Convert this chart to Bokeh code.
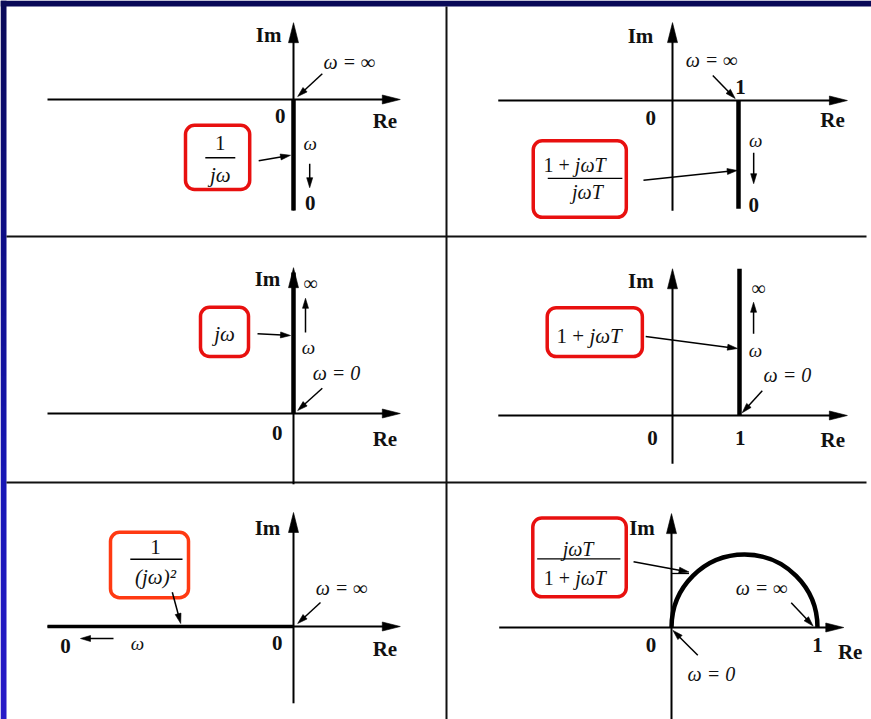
import math
import numpy as np
from bokeh.plotting import figure
from bokeh.models import Range1d
from bokeh.core.properties import value
from bokeh.embed import file_html
from bokeh.resources import INLINE

W, H = 871, 719
SERIF = value("Liberation Serif")

# ---------------------------------------------------------------
# Nyquist loci of the elementary factors (Re / Im units per panel)
# ---------------------------------------------------------------
# 1/(jw): negative imaginary axis, w from 0 (-j inf) to inf (origin)
INTEG_RE = [0.0, 0.0]
INTEG_IM = [0.0, -1.85]
# (1 + jwT)/(jwT): line Re = 1 below the real axis
PI_RE = [1.0, 1.0]
PI_IM = [0.0, -1.64]
# jw: positive imaginary axis
DIFF_RE = [0.0, 0.0]
DIFF_IM = [0.0, 2.35]
# 1 + jwT: line Re = 1 above the real axis
PD_RE = [1.0, 1.0]
PD_IM = [0.0, 2.19]
# 1/(jw)^2: negative real axis
DOUBLE_RE = [0.0, -4.1]
DOUBLE_IM = [0.0, 0.0]
# jwT/(1 + jwT): upper semicircle between 0 and 1
HP_CENTER_RE = [0.5]
HP_CENTER_IM = [0.0]
HP_RADIUS = [0.5]

# value marks written on the real axis
ORIGIN_LABEL = "0"
UNIT_LABEL = "1"
UNIT_RE = 1.0

# ---------------------------------------------------------------
# page layout: origin pixel (x from left, y from top) and px per unit
# ---------------------------------------------------------------
LAYOUT = {
    "tl": (293, 99, 60),
    "tr": (672, 100, 66),
    "ml": (293, 413, 60),
    "mr": (672, 415, 67),
    "bl": (293, 626, 60),
    "br": (671, 627, 146),
}
# drawn extent of each pair of axes (re_min, re_max, im_min, im_max)
AXES = {
    "tl": (-4.1, 1.78, -1.85, 1.28),
    "tr": (-2.64, 2.65, -1.67, 1.18),
    "ml": (-4.1, 1.78, -1.18, 2.43),
    "mr": (-2.6, 2.61, -0.72, 2.19),
    "bl": (-4.1, 1.78, -1.28, 1.9),
    "br": (-1.18, 1.18, -0.63, 0.78),
}

p = figure(width=W, height=H, x_range=Range1d(0, W), y_range=Range1d(0, H),
           min_border=0, toolbar_location=None, output_backend="svg",
           x_axis_location=None, y_axis_location=None)
p.outline_line_color = None
p.background_fill_color = "white"
p.border_fill_color = "white"
for g in p.grid:
    g.visible = False

xr, yr = {}, {}
for name, (ox, oy, k) in LAYOUT.items():
    xr[name] = Range1d(start=(0 - ox) / k, end=(W - ox) / k)
    yr[name] = Range1d(start=(oy - H) / k, end=oy / k)
p.extra_x_ranges = xr
p.extra_y_ranges = yr

# ---------------- page frame ----------------
# left edge: vertical blue gradient (navy at the top, violet-blue at the bottom)
stops_y = [0, 240, 480, H]
stops_rgb = np.array([(10, 10, 88), (14, 14, 135), (22, 22, 182), (40, 26, 200)], float)
rows = np.arange(H)[::-1] + 0.5          # image row 0 is drawn at the bottom
grad = np.empty((H, 1), dtype=np.uint32)
view = grad.view(dtype=np.uint8).reshape((H, 1, 4))
for c in range(3):
    view[:, 0, c] = np.interp(rows, stops_y, stops_rgb[:, c]).round().astype(np.uint8)
view[:, 0, 3] = 255
p.image_rgba(image=[grad], x=0, y=0, dw=6, dh=H)
p.quad(left=[0], right=[W], top=[H], bottom=[H - 6], fill_color="#0a0a58", line_color=None)

# cell dividers
p.segment(x0=[446, 6, 6], y0=[H - 6, H - 236, H - 482],
          x1=[446, 866, 866], y1=[0, H - 236, H - 482],
          line_color="#111111", line_width=2)

# ---------------- helpers ----------------
def kw(pn):
    return dict(x_range_name=pn, y_range_name=pn)

def arrow(pn, x0, y0, x1, y1, lw=1.5, hl=10, hw=6):
    k = LAYOUT[pn][2]
    dx, dy = x1 - x0, y1 - y0
    n = math.hypot(dx, dy)
    ux, uy = dx / n, dy / n
    bx, by = x1 - ux * hl / k, y1 - uy * hl / k
    p.line([x0, bx + ux * 1.5 / k], [y0, by + uy * 1.5 / k], line_color="black",
           line_width=lw, **kw(pn))
    px, py = -uy, ux
    xs = [x1, bx + px * hw / 2 / k, bx - px * hw / 2 / k]
    ys = [y1, by + py * hw / 2 / k, by - py * hw / 2 / k]
    p.patch(xs, ys, fill_color="black", line_color="black", line_width=0.6, **kw(pn))

def txt(pn, x, y, s, size=20, align="center", style="normal"):
    p.text(x=[x], y=[y], text=[s], text_font=SERIF, text_font_size=f"{size}px",
           text_font_style=style, text_align=align,
           text_baseline="middle", text_color="#111111", **kw(pn))

def axis_txt(pn, x, y, s, align="center"):
    txt(pn, x, y, s, 21, align, "bold")

def math_txt(pn, x, y, s, size=20, align="center"):
    txt(pn, x, y, s, size, align, "italic")

def mixed(pn, xsplit, y, roman, ital, size=19):
    txt(pn, xsplit, y, roman, size, "right")
    math_txt(pn, xsplit, y, ital, size, "left")

def box(pn, l, r, b, t, color="#e8100f"):
    p.quad(left=[l], right=[r], bottom=[b], top=[t], fill_color=None,
           line_color=color, line_width=3.5, border_radius=9, **kw(pn))

def frac_bar(pn, x0, x1, y):
    p.line([x0, x1], [y, y], line_color="black", line_width=1.4, **kw(pn))

def axes(pn):
    r0, r1, i0, i1 = AXES[pn]
    arrow(pn, r0, 0, r1, 0, lw=2, hl=18, hw=9)
    arrow(pn, 0, i0, 0, i1, lw=2, hl=20, hw=10)

def locus(pn, xs, ys, lw=4.5):
    p.line(xs, ys, line_color="black", line_width=lw, line_cap="butt", **kw(pn))

for pn in LAYOUT:
    axes(pn)

# ---------------- 1/(jw) ----------------
pn = "tl"
locus(pn, INTEG_RE, INTEG_IM)
axis_txt(pn, -0.2, 1.07, "Im", "right")
axis_txt(pn, 1.32, -0.35, "Re", "left")
axis_txt(pn, -0.22, -0.27, ORIGIN_LABEL)
math_txt(pn, 0.5, 0.62, "ω = ∞", 20, "left")
arrow(pn, 0.48, 0.43, 0.07, 0.05)
box(pn, -1.8, -0.73, -1.5, -0.43)
txt(pn, -1.22, -0.73, "1", 21)
frac_bar(pn, -1.47, -0.97, -0.97)
math_txt(pn, -1.22, -1.25, "jω", 21)
arrow(pn, -0.58, -1.02, -0.05, -0.93)
math_txt(pn, 0.28, -0.73, "ω", 19)
arrow(pn, 0.27, -1.07, 0.27, -1.47)
axis_txt(pn, 0.28, -1.73, "0")

# ---------------- (1 + jwT)/(jwT) ----------------
pn = "tr"
locus(pn, PI_RE, PI_IM)
axis_txt(pn, -0.29, 0.97, "Im", "right")
axis_txt(pn, 2.24, -0.3, "Re", "left")
axis_txt(pn, -0.33, -0.27, ORIGIN_LABEL)
axis_txt(pn, UNIT_RE + 0.03, 0.21, UNIT_LABEL)
math_txt(pn, 0.2, 0.61, "ω = ∞", 20, "left")
arrow(pn, 0.61, 0.38, 0.95, 0.03)
box(pn, -2.11, -0.70, -1.77, -0.61)
mixed(pn, -1.48, -0.98, "1 + ", "jωT", 20)
frac_bar(pn, -1.89, -0.76, -1.18)
math_txt(pn, -1.29, -1.39, "jωT", 20)
arrow(pn, -0.44, -1.21, 0.98, -1.06)
math_txt(pn, 1.26, -0.61, "ω", 19)
arrow(pn, 1.23, -0.79, 1.23, -1.26)
axis_txt(pn, 1.23, -1.58, "0")

# ---------------- jw ----------------
pn = "ml"
locus(pn, DIFF_RE, DIFF_IM)
axis_txt(pn, -0.22, 2.25, "Im", "right")
axis_txt(pn, 1.32, -0.42, "Re", "left")
axis_txt(pn, -0.27, -0.33, ORIGIN_LABEL)
txt(pn, 0.28, 2.17, "∞", 20)
arrow(pn, 0.2, 1.35, 0.2, 1.92)
math_txt(pn, 0.25, 1.1, "ω", 19)
math_txt(pn, 0.32, 0.68, "ω = 0", 20, "left")
arrow(pn, 0.48, 0.42, 0.07, 0.05)
box(pn, -1.55, -0.75, 0.95, 1.77)
math_txt(pn, -1.15, 1.33, "jω", 21)
arrow(pn, -0.6, 1.33, -0.05, 1.3)

# ---------------- 1 + jwT ----------------
pn = "mr"
locus(pn, PD_RE, PD_IM)
axis_txt(pn, -0.28, 2.01, "Im", "right")
axis_txt(pn, 2.21, -0.37, "Re", "left")
axis_txt(pn, -0.3, -0.33, ORIGIN_LABEL)
axis_txt(pn, UNIT_RE + 0.01, -0.33, UNIT_LABEL)
txt(pn, 1.28, 1.91, "∞", 20)
arrow(pn, 1.21, 1.22, 1.21, 1.69)
math_txt(pn, 1.24, 0.97, "ω", 19)
math_txt(pn, 1.36, 0.6, "ω = 0", 20, "left")
arrow(pn, 1.34, 0.37, 1.04, 0.04)
box(pn, -1.87, -0.45, 0.88, 1.61)
mixed(pn, -1.24, 1.19, "1 + ", "jωT", 21)
arrow(pn, -0.4, 1.18, 0.97, 1.0)

# ---------------- 1/(jw)^2 ----------------
pn = "bl"
locus(pn, DOUBLE_RE, DOUBLE_IM, 3.5)
axis_txt(pn, -0.22, 1.65, "Im", "right")
axis_txt(pn, 1.32, -0.37, "Re", "left")
axis_txt(pn, -0.27, -0.28, ORIGIN_LABEL)
math_txt(pn, 0.37, 0.65, "ω = ∞", 20, "left")
arrow(pn, 0.45, 0.4, 0.07, 0.05)
box(pn, -3.05, -1.75, 0.48, 1.57, "#ff3a12")
txt(pn, -2.3, 1.32, "1", 21)
frac_bar(pn, -2.72, -1.85, 1.12)
math_txt(pn, -2.3, 0.82, "(jω)²", 21)
arrow(pn, -2.02, 0.57, -1.88, 0.05)
axis_txt(pn, -3.8, -0.32, "0")
arrow(pn, -3.0, -0.2, -3.55, -0.2)
math_txt(pn, -2.6, -0.28, "ω", 19)

# ---------------- jwT/(1 + jwT) ----------------
pn = "br"
p.arc(x=HP_CENTER_RE, y=HP_CENTER_IM, radius=HP_RADIUS, start_angle=0, end_angle=math.pi,
      line_color="black", line_width=4.5, **kw(pn))
axis_txt(pn, -0.29, 0.68, "Im", "left")
axis_txt(pn, 1.14, -0.17, "Re", "left")
axis_txt(pn, -0.14, -0.12, ORIGIN_LABEL)
axis_txt(pn, UNIT_RE, -0.12, UNIT_LABEL)
math_txt(pn, 0.44, 0.27, "ω = ∞", 20, "left")
arrow(pn, 0.82, 0.17, 0.97, 0.01)
math_txt(pn, 0.11, -0.32, "ω = 0", 20, "left")
arrow(pn, 0.18, -0.19, 0.01, -0.02)
box(pn, -0.95, -0.31, 0.21, 0.75)
math_txt(pn, -0.64, 0.54, "jωT", 20)
frac_bar(pn, -0.92, -0.35, 0.47)
mixed(pn, -0.66, 0.34, "1 + ", "jωT", 20)
arrow(pn, -0.26, 0.45, 0.12, 0.38)
p.line([0.0, 0.12], [0.37, 0.37], line_color="black", line_width=1.3, **kw(pn))

open("out.html", "w").write(file_html(p, INLINE))
